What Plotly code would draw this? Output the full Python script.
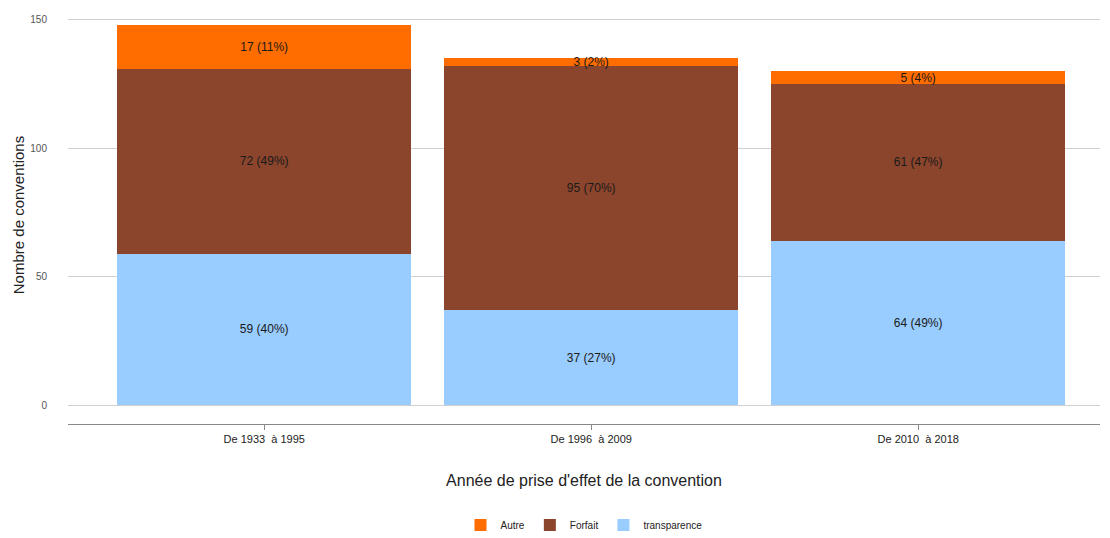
import plotly.graph_objects as go

categories = ["De 1933  à 1995", "De 1996  à 2009", "De 2010  à 2018"]
series_names = ["transparence", "Forfait", "Autre"]
transparence = [59, 37, 64]
forfait = [72, 95, 61]
autre = [17, 3, 5]
colors = {"transparence": "#99CCFF", "Forfait": "#8B452D", "Autre": "#FF6D00"}

values = {"transparence": transparence, "Forfait": forfait, "Autre": autre}
totals = [a + b + c for a, b, c in zip(transparence, forfait, autre)]

fig = go.Figure()
for name in series_names:
    vals = values[name]
    labels = [f"{v} ({round(100 * v / t)}%)" for v, t in zip(vals, totals)]
    fig.add_trace(go.Bar(
        x=list(range(len(categories))), y=vals, name=name,
        marker=dict(color=colors[name], line=dict(width=0)),
        width=0.9,
        text=labels, textposition="inside", insidetextanchor="middle",
        constraintext="none",
        textfont=dict(family="Liberation Sans, Arial", size=12, color="#1a1a1a"),
    ))

fig.update_layout(
    barmode="stack",
    width=1110, height=538,
    margin=dict(l=68, r=10, t=6, b=114, autoexpand=False),
    paper_bgcolor="white", plot_bgcolor="white",
    font=dict(family="Liberation Sans, Arial", color="#222"),
    legend=dict(orientation="h", traceorder="reversed",
                xref="paper", yref="container",
                x=0.5, xanchor="center", y=0.024, yanchor="middle",
                font=dict(size=10, color="#222"), itemwidth=30),
    xaxis=dict(
        range=[-0.6, 2.556], tickmode="array",
        tickvals=list(range(len(categories))), ticktext=categories,
        showgrid=False, showline=True, linecolor="#888", linewidth=1,
        ticks="outside", ticklen=5, tickcolor="#888",
        tickfont=dict(size=11, color="#222"),
        title=dict(text="Année de prise d'effet de la convention",
                   font=dict(size=16, color="#222"), standoff=30),
        zeroline=False, automargin=False,
    ),
    yaxis=dict(
        range=[-7.4, 155.4], tickvals=[0, 50, 100, 150],
        showgrid=True, gridcolor="#D0D0D0", gridwidth=1,
        zeroline=False, showline=False, ticks="",
        tickfont=dict(size=10, color="#555"),
        title=dict(text="Nombre de conventions", font=dict(size=15, color="#222"),
                   standoff=2),
        ticklabelstandoff=20, automargin=False,
    ),
    showlegend=True,
)

fig.write_html("out.html", config={"displayModeBar": False},
               post_script="document.body.style.margin='0';document.body.style.overflow='hidden';")
